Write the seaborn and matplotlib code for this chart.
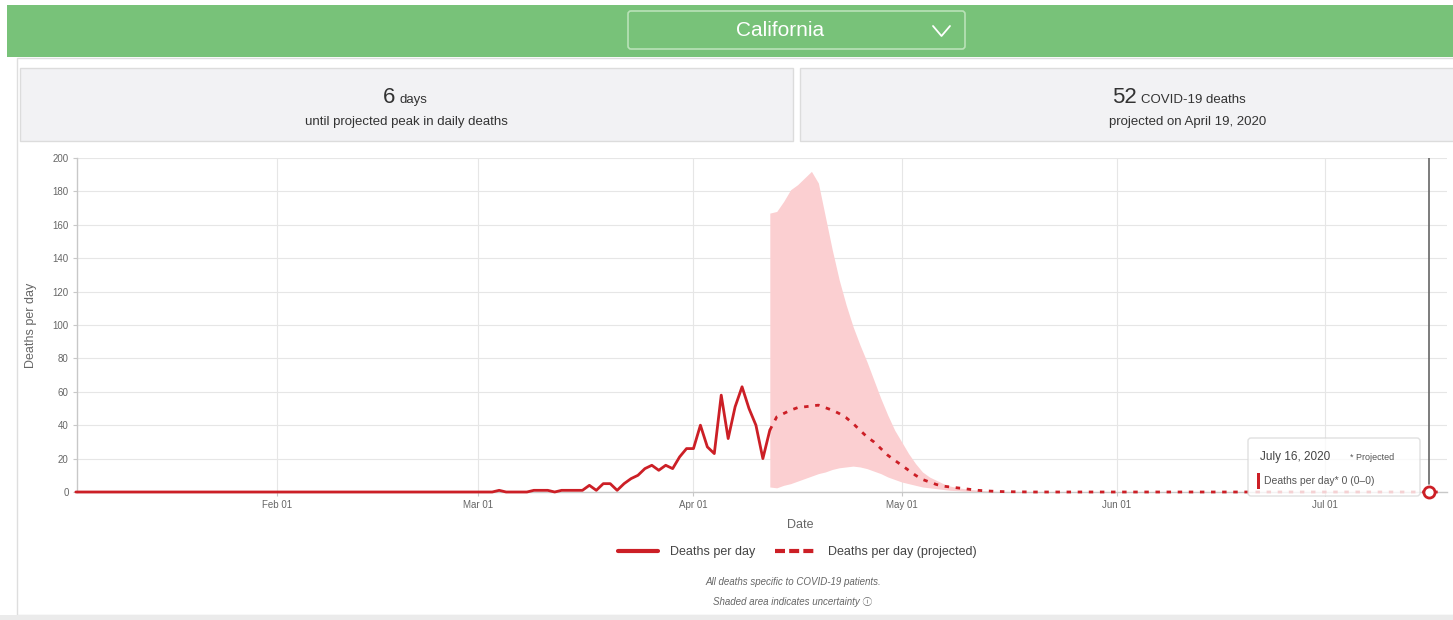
import matplotlib
matplotlib.use("Agg")
import matplotlib.pyplot as plt
import matplotlib.dates as mdates
from matplotlib.lines import Line2D
from matplotlib.patches import Rectangle, FancyBboxPatch
import numpy as np
import pandas as pd
import seaborn as sns

# ---- data ----
state = "California"
peak_days = 6
peak_deaths = 52
peak_date_text = "April 19, 2020"

# observed deaths per day (flat at zero from Jan 3 until March)
obs_dates = [pd.Timestamp("2020-01-03")] + list(pd.date_range("2020-03-01", "2020-04-12"))
obs_values = [0,
              0, 0, 0, 1, 0, 0, 0, 0, 1, 1, 1, 0, 1, 1, 1, 1, 4, 1, 5, 5, 1, 5, 8, 10, 14, 16,
              13, 16, 14, 21, 26,
              26, 40, 27, 23, 58, 32, 51, 63, 50, 40, 20, 37]

# projected deaths per day
proj_dates = list(pd.date_range("2020-04-12", "2020-05-16")) + [pd.Timestamp("2020-05-20"),
                                                               pd.Timestamp("2020-07-18")]
proj_values = [37, 45, 47, 49, 50.5, 51, 51.5, 52, 50.5, 49, 47, 44.5, 41, 37, 33, 30, 26, 22, 19,
               16, 13, 10, 7.5, 6, 4.5, 3.5, 3, 2.5, 2, 1.5, 1, 0.7, 0.5, 0.3, 0.2,
               0, 0]

# uncertainty band
band_dates = list(pd.date_range("2020-04-12", "2020-05-15")) + [pd.Timestamp("2020-05-20")]
band_upper = [167, 168, 174, 181, 184, 188, 192, 185, 165, 145, 127, 112, 99, 88, 78, 67, 56, 46, 37,
              30, 23, 17, 12, 9, 7, 5, 3.5, 2.7, 2, 1.5, 1.1, 0.8, 0.5, 0.3,
              0]
band_lower = [3, 2.5, 4, 5, 6.5, 8, 9.5, 11, 12, 13.5, 14.5, 15, 15.5, 15, 14, 12.5, 11, 9, 7.5,
              6, 5, 4, 3, 2.5, 2, 1.5, 1, 0.8, 0.5, 0.3, 0.2, 0.1, 0, 0,
              0]

# hover tooltip
tip_date = pd.Timestamp("2020-07-16")
tip_value, tip_lo, tip_hi = 0, 0, 0

RED = "#cc1f26"
BAND = "#fbcfd1"
GREEN = "#78c279"
W, H = 1453, 620

sns.set_theme(style="white")
plt.rcParams["font.family"] = ["Liberation Sans", "DejaVu Sans", "Noto Sans CJK SC"]

fig = plt.figure(figsize=(W / 100, H / 100), dpi=100)

# background layer in pixel coordinates
bg = fig.add_axes([0, 0, 1, 1], zorder=0)
bg.set_xlim(0, W)
bg.set_ylim(H, 0)
bg.axis("off")

bg.add_patch(Rectangle((17, 58), 1460, 557, facecolor="white", edgecolor="#dedede", lw=1))
bg.add_patch(Rectangle((0, 615), W, 10, facecolor="#ebebeb", edgecolor="none"))
bg.add_patch(Rectangle((7, 5), W, 52, facecolor=GREEN, edgecolor="none"))
bg.add_patch(FancyBboxPatch((628, 11), 337, 38, boxstyle="round,pad=0,rounding_size=3",
                            facecolor="none", edgecolor="#b9e2b8", lw=1.2))
bg.text(780, 31, state, color="white", fontsize=15, ha="center", va="center")
bg.plot([933, 941.5, 950], [26, 36, 26], color="white", lw=1.3)

# stat boxes
bg.add_patch(Rectangle((20, 68), 773, 73, facecolor="#f2f2f4", edgecolor="#dcdcdc", lw=1))
bg.add_patch(Rectangle((800, 68), 780, 73, facecolor="#f2f2f4", edgecolor="#dcdcdc", lw=1))
bg.text(395, 103, str(peak_days), fontsize=16, ha="right", va="baseline", color="#333")
bg.text(399, 103, "days", fontsize=9.5, ha="left", va="baseline", color="#333")
bg.text(406, 125, "until projected peak in daily deaths", fontsize=9.5, ha="center",
        va="baseline", color="#333")
bg.text(1137, 103, str(peak_deaths), fontsize=16, ha="right", va="baseline", color="#333")
bg.text(1141, 103, "COVID-19 deaths", fontsize=9.5, ha="left", va="baseline", color="#333")
bg.text(1188, 125, "projected on " + peak_date_text, fontsize=9.5, ha="center",
        va="baseline", color="#333")

# footnotes
bg.text(793, 582, "All deaths specific to COVID-19 patients.", fontsize=7, style="italic",
        ha="center", va="center", color="#666")
bg.text(793, 602, "Shaded area indicates uncertainty \u24d8", fontsize=7, style="italic",
        ha="center", va="center", color="#666",
        family=["Liberation Sans", "Noto Sans CJK SC", "DejaVu Sans"])

# ---- main chart ----
ax = fig.add_axes([77 / W, 1 - 492 / H, 1370 / W, 334 / H], zorder=1)
ax.set_facecolor("white")

ax.fill_between(band_dates, band_lower, band_upper, color=BAND, lw=0, zorder=1)
sns.lineplot(x=obs_dates, y=obs_values, ax=ax, color=RED, lw=2.0, clip_on=False, zorder=3)
sns.lineplot(x=proj_dates, y=proj_values, ax=ax, color=RED, lw=2.0, clip_on=False, zorder=3,
             linestyle=(0, (1.6, 2.4)))

ax.set_xlim(pd.Timestamp("2020-01-03 04:00"), pd.Timestamp("2020-07-18 14:00"))
ax.set_ylim(0, 200)
ax.set_yticks(np.arange(0, 201, 20))
ax.xaxis.set_major_locator(mdates.MonthLocator(bymonthday=1))
ax.xaxis.set_major_formatter(mdates.DateFormatter("%b %d"))

ax.grid(True, color="#e6e6e6", lw=0.8)
ax.set_axisbelow(True)
for side in ["top", "right"]:
    ax.spines[side].set_visible(False)
for side in ["left", "bottom"]:
    ax.spines[side].set_color("#c8c8c8")
    ax.spines[side].set_linewidth(1)
ax.tick_params(axis="both", length=3, width=0.8, color="#c8c8c8", labelsize=7,
               labelcolor="#666", pad=3, left=True, bottom=True)

ax.set_xlabel("Date", fontsize=9, color="#666")
ax.set_ylabel("Deaths per day", fontsize=9, color="#666")
ax.xaxis.set_label_coords((800 - 77) / 1370, -(519 - 492) / 334)
ax.yaxis.set_label_coords(-(77 - 37) / 1370, 0.5)

# crosshair and hover marker
ax.axvline(tip_date, ymin=0.025, ymax=1, color="#666", lw=1.2, zorder=4)
ax.plot([tip_date], [tip_value], marker="o", ms=8, mfc="white", mec=RED, mew=2,
        clip_on=False, zorder=6)

# legend
handles = [Line2D([], [], color=RED, lw=3),
           Line2D([], [], color=RED, lw=3, dashes=(2.4, 1.0))]
fig.legend(handles, ["Deaths per day", "Deaths per day (projected)"], loc="center",
           bbox_to_anchor=(797 / W, 1 - 552 / H), ncol=2, frameon=False, fontsize=9,
           handlelength=3.2, columnspacing=1.6, handletextpad=1.0, labelcolor="#444")

# tooltip overlay
top = fig.add_axes([0, 0, 1, 1], zorder=3)
top.set_xlim(0, W)
top.set_ylim(H, 0)
top.axis("off")
top.patch.set_alpha(0)
top.add_patch(FancyBboxPatch((1248, 438), 172, 58, boxstyle="round,pad=0,rounding_size=3",
                             facecolor="white", alpha=0.8, edgecolor="#d8d8d8", lw=1))
top.text(1260, 457, tip_date.strftime("%B %d, %Y").replace(" 0", " "), fontsize=8.5,
         ha="left", va="center", color="#444")
top.text(1350, 457, "* Projected", fontsize=6.5, ha="left", va="center", color="#555")
top.add_patch(Rectangle((1257, 473), 2.5, 16, facecolor=RED, edgecolor="none"))
top.text(1264, 481, f"Deaths per day* {tip_value} ({tip_lo}\u2013{tip_hi})", fontsize=7.5,
         ha="left", va="center", color="#555")

fig.savefig("out.png", dpi=100)
